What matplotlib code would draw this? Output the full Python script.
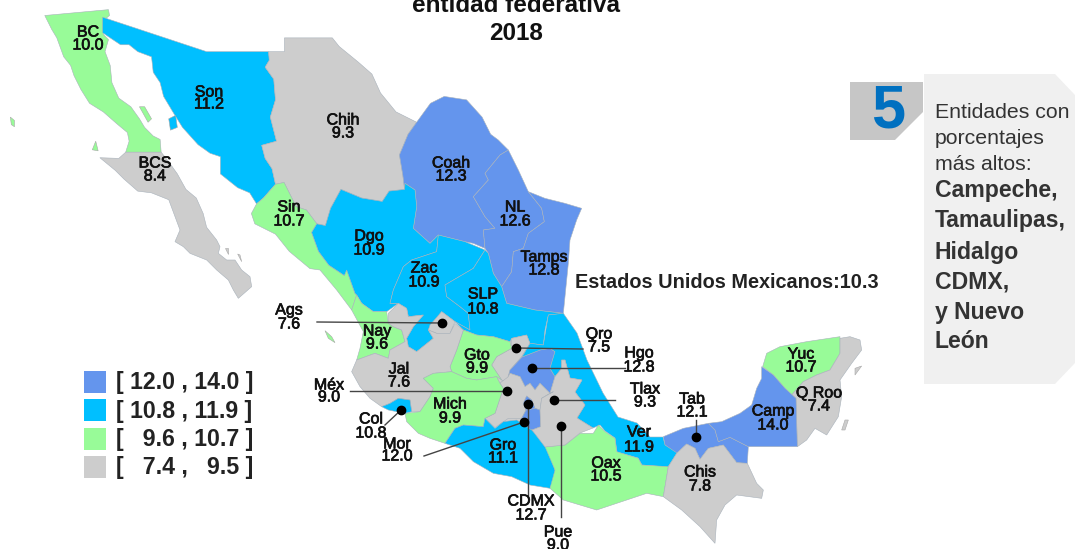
"""Entidades federativas de Mexico, mapa de porcentajes 2018."""

import numpy as np
import matplotlib
matplotlib.use("Agg")
import matplotlib.pyplot as plt
import matplotlib.patheffects as pe
from matplotlib.patches import Polygon, Rectangle

plt.rcParams["font.family"] = ["Liberation Sans", "DejaVu Sans"]

# Data
STATES = ["BC", "Son", "Chih", "Coah", "BCS", "Sin", "NL", "Dgo", "Tamps", "Zac", "SLP",
          "Ags", "Nay", "Qro", "Hgo", "Gto", "Jal", "Méx", "Yuc", "Tlax", "Q Roo", "Tab",
          "Camp", "Mich", "Col", "Mor", "Gro", "Ver", "Oax", "Chis", "CDMX", "Pue"]
VALUES = [10.0, 11.2, 9.3, 12.3, 8.4, 10.7, 12.6, 10.9, 12.8, 10.9, 10.8,
          7.6, 9.6, 7.5, 12.8, 9.9, 7.6, 9.0, 10.7, 9.3, 7.4, 12.1,
          14.0, 9.9, 10.8, 12.0, 11.1, 11.9, 10.5, 7.8, 12.7, 9.0]
BIN_EDGES = [9.6, 10.8, 12.0]
BIN_COLORS = ["#CDCDCD", "#98FB98", "#00BFFF", "#6495ED"]
LEGEND_LABELS = ["[ 12.0 , 14.0 ]", "[ 10.8 , 11.9 ]", "[   9.6 , 10.7 ]", "[   7.4 ,   9.5 ]"]
NATIONAL_LABEL = "Estados Unidos Mexicanos:10.3"
TITLE_LINES = ["entidad federativa", "2018"]
PANEL_NORMAL = ["Entidades con", "porcentajes", "más altos:"]
PANEL_BOLD = ["Campeche,", "Tamaulipas,", "Hidalgo", "CDMX,", "y Nuevo", "León"]


# Outlines were traced on enlarged crops, these map them back to image pixels
def z1(pts):
    return [(x / 2.904, y / 2.904) for x, y in pts]


def z2(pts):
    return [(260 + x / 3, 270 + y / 3) for x, y in pts]


def z3(pts):
    return [(540 + x / 3, 320 + y / 3) for x, y in pts]


def z4(pts):
    return [(385 + x / 3, 140 + y / 3) for x, y in pts]


def z5(pts):
    return [(490 + x / 3, 330 + y / 3) for x, y in pts]


def z6(pts):
    return [(170 + x / 3, 230 + y / 3) for x, y in pts]


SHAPES = {
    "BC": z1([(130, 45), (315, 28), (318, 45), (300, 60), (300, 100), (315, 115), (305, 150), (320, 190),
              (325, 240), (345, 285), (380, 310), (405, 345), (420, 370), (445, 395), (465, 405), (468, 442),
              (365, 442), (375, 410), (370, 385), (340, 360), (300, 325), (260, 300), (235, 260), (215, 220),
              (205, 190), (185, 165), (165, 110), (150, 85)]),
    "Son": z1([(298, 50), (600, 150), (780, 150), (782, 175), (770, 195), (795, 230), (800, 290), (785, 340),
               (803, 410), (760, 422), (770, 460), (790, 490), (800, 535), (765, 575), (745, 592), (725, 560),
               (690, 545), (640, 505), (640, 455), (610, 445), (575, 420), (530, 370), (505, 330), (475, 280),
               (465, 240), (445, 210), (440, 165), (400, 150), (375, 130), (350, 130), (320, 110), (298, 95)]),
    "Chih": z1([(780, 150), (826, 150), (826, 110), (965, 110), (985, 135), (1040, 180), (1080, 215),
                (1105, 270), (1150, 325), (1210, 355), (1185, 390), (1160, 450), (1170, 510), (1175, 550),
                (1130, 555), (1110, 585), (1050, 575), (990, 550), (960, 605), (945, 655), (920, 650),
                (890, 610), (860, 600), (840, 560), (825, 530), (800, 535), (790, 490), (770, 460), (760, 422),
                (803, 410), (785, 340), (800, 290), (795, 230), (770, 195), (782, 175)]),
    "Coah": z1([(1175, 550), (1170, 510), (1160, 450), (1185, 390), (1210, 355), (1250, 300), (1290, 280),
                (1355, 290), (1400, 340), (1425, 390)])
            + z4([(340, 0), (370, 30), (345, 45), (300, 100), (310, 120), (265, 170), (300, 230), (330, 265),
                  (295, 270), (300, 325), (265, 310), (240, 305), (160, 285), (135, 310), (85, 265), (95, 200),
                  (90, 150), (60, 130)]),
    "NL": z4([(345, 45), (370, 30), (400, 90), (430, 155), (470, 205), (478, 245), (430, 280), (415, 325),
              (385, 335), (380, 395), (350, 440), (325, 400), (310, 340), (300, 325), (295, 270), (330, 265),
              (300, 230), (265, 170), (310, 120), (300, 100)]),
    "Tamps": z4([(430, 155), (480, 175), (540, 190), (590, 205), (575, 240), (555, 300), (550, 370), (535, 520),
                 (450, 510), (365, 490), (350, 440), (380, 395), (385, 335), (415, 325), (430, 280), (478, 245),
                 (470, 205)]),
    "BCS": z1([(290, 458), (345, 460), (365, 442), (468, 442), (490, 470), (515, 505), (540, 550), (570, 575),
               (590, 620), (600, 660)])
           + z6([(140, 30), (150, 50), (145, 70), (170, 90), (195, 90), (215, 120), (240, 140), (245, 170),
                 (205, 205), (190, 180), (175, 150), (140, 120), (110, 90), (60, 70), (40, 50), (15, 35), (30, 0)])
           + z1([(490, 580), (440, 560), (400, 555), (360, 520), (335, 495)]),
    "Sin": z1([(800, 535), (825, 530), (840, 560), (860, 600), (890, 610), (920, 650), (905, 675), (925, 730),
                (955, 770), (1000, 800)])
           + z2([(260, 0), (285, 70), (290, 75), (275, 120), (230, 60), (180, 0)])
           + z1([(900, 780), (840, 730), (800, 680), (740, 650), (730, 620), (745, 592), (765, 575)]),
    "Dgo": z1([(990, 550), (1050, 575), (1110, 585), (1130, 555), (1175, 550)])
           + z4([(60, 130), (90, 150), (95, 200), (85, 265), (135, 310), (160, 285), (155, 335), (80, 360),
                 (55, 380), (25, 450), (15, 490)])
           + z2([(415, 100), (380, 125), (340, 125), (305, 100), (290, 75), (285, 70), (260, 0)])
           + z1([(1000, 800), (955, 770), (925, 730), (905, 675), (920, 650), (945, 655), (960, 605)]),
    "Zac": z4([(160, 285), (240, 305), (300, 330), (265, 385), (180, 435), (185, 470), (225, 500), (250, 520),
               (255, 570)])
           + z2([(585, 155), (545, 125), (505, 180), (520, 205), (470, 245), (445, 230), (440, 205), (460, 170),
                 (490, 135), (445, 140), (440, 115), (415, 100)])
           + z4([(15, 490), (25, 450), (55, 380), (80, 360), (155, 335)]),
    "SLP": z4([(300, 330), (310, 340), (325, 400), (350, 440), (365, 490), (450, 510), (535, 520), (490, 525),
               (480, 570)])
           + z2([(850, 225), (810, 220), (800, 195), (755, 205), (750, 215), (700, 200), (650, 195), (610, 180),
                 (585, 155)])
           + z4([(255, 570), (250, 520), (225, 500), (185, 470), (180, 435), (265, 385)]),
    "Ags": z2([(510, 165), (545, 125), (585, 155), (570, 190), (530, 190), (505, 180)]),
    "Nay": z2([(290, 75), (275, 120), (310, 185), (300, 235), (290, 270), (345, 250), (385, 265), (390, 240),
               (435, 215), (425, 180), (400, 170), (385, 160), (380, 125), (340, 125), (305, 100)]),
    "Jal": z2([(385, 130), (415, 100), (440, 115), (445, 140), (490, 135), (460, 170), (440, 205), (445, 230),
               (470, 245), (520, 205), (505, 180), (530, 190), (570, 190), (585, 160), (610, 180), (590, 240),
               (570, 290), (575, 305), (520, 310), (490, 325), (520, 355), (510, 380), (480, 425), (455, 425),
               (450, 390), (415, 385), (390, 400), (365, 410), (330, 385), (300, 350), (275, 305), (290, 270),
               (345, 250), (385, 265), (390, 240), (435, 215), (425, 180), (400, 170), (385, 160)]),
    "Mich": z2([(490, 325), (520, 310), (575, 305), (620, 325), (650, 330), (710, 320), (720, 340), (730, 355),
                (725, 370), (705, 430), (675, 445), (670, 470), (610, 465), (585, 475), (555, 520), (510, 505),
                (475, 490), (440, 455), (435, 430), (480, 425), (510, 380), (520, 355)]),
    "Col": z2([(365, 410), (390, 400), (415, 385), (450, 390), (455, 425), (435, 430), (410, 425), (385, 420)]),
    "Gto": z2([(610, 180), (650, 195), (700, 200), (750, 215), (755, 235), (710, 260), (695, 285), (725, 330),
               (710, 320), (650, 330), (620, 325), (575, 305), (570, 290), (590, 240)]),
    "Qro": z2([(755, 205), (800, 195), (810, 220), (785, 260), (750, 300), (745, 325), (735, 335), (725, 330),
               (695, 285), (710, 260), (755, 235)]),
    "Hgo": z5([(60, 120), (96, 81), (150, 60), (180, 55), (195, 65), (180, 115), (195, 140), (180, 190), (150, 160),
               (135, 180), (120, 160), (105, 170), (90, 140), (60, 130), (54, 141)]),
    "Méx": z5([(54, 141), (60, 130), (90, 140), (105, 170), (120, 160), (135, 180), (150, 160), (180, 190), (155, 205),
               (150, 240), (135, 235), (125, 210), (110, 198), (100, 220), (108, 240), (95, 265), (55, 265),
               (15, 293), (-15, 265), (15, 250), (35, 190), (40, 175), (30, 159)]),
    "CDMX": z5([(110, 198), (125, 210), (135, 235), (108, 240), (100, 220)]),
    "Mor": z5([(108, 240), (135, 235), (150, 240), (152, 290), (126, 300), (90, 285), (95, 265)]),
    "Tlax": z5([(155, 205), (190, 185), (225, 205), (210, 220), (180, 235), (165, 225)]),
    "Pue": z5([(180, 190), (195, 140), (215, 115), (215, 90), (225, 90), (240, 144), (276, 150), (255, 186),
               (285, 225), (261, 264), (309, 294), (270, 309), (225, 345), (165, 351), (126, 300), (152, 290),
               (150, 240), (155, 205), (190, 185)]),
    "Gro": z2([(555, 520), (585, 475), (610, 465), (670, 470), (675, 445), (705, 475), (730, 455), (770, 450),
               (815, 480), (860, 520), (885, 600), (890, 610), (870, 655), (810, 645), (755, 620), (700, 610),
               (640, 575), (600, 535)]),
    "Oax": z3([(15, 380), (75, 375), (120, 340), (160, 340), (175, 315), (195, 335), (225, 355), (230, 395),
               (295, 415), (305, 435), (385, 440), (370, 530), (320, 520), (245, 545), (170, 570), (70, 540),
               (30, 505), (45, 450)]),
    "Ver": z4([(490, 525), (535, 520)])
           + [(577, 333), (587, 360), (603, 393), (618, 417), (637, 423), (650, 437), (663, 437), (665, 445),
              (677, 453), (668, 467), (642, 465), (638, 458), (617, 452), (615, 438), (605, 431), (600, 425),
              (593, 428)]
           + z5([(261, 264), (285, 225), (255, 186), (276, 150), (240, 144), (225, 90), (215, 90), (215, 115),
                 (195, 140), (180, 115), (195, 65), (180, 55), (150, 60), (96, 81)])
           + z2([(810, 220), (850, 225)]),
    "Tab": z3([(370, 350), (430, 325), (505, 310), (525, 330), (535, 365), (570, 352), (625, 380), (622, 430),
               (590, 428), (550, 375), (505, 385), (480, 418), (465, 385), (440, 372), (410, 400), (375, 375)]),
    "Camp": z3([(665, 140), (700, 165), (735, 205), (768, 235), (772, 380), (625, 380), (570, 352), (535, 365),
                (525, 330), (505, 310), (545, 305), (600, 280), (635, 255), (650, 205), (665, 175)]),
    "Chis": z3([(385, 440), (410, 400), (440, 372), (465, 385), (480, 418), (505, 385), (550, 375), (590, 428),
                (622, 430), (650, 490), (670, 510), (665, 535), (590, 525), (555, 555), (530, 600), (525, 670),
                (480, 620), (425, 570), (370, 530)]),
    "Yuc": z3([(668, 140), (680, 100), (720, 80), (800, 65), (900, 50), (900, 100), (870, 150), (830, 165),
               (790, 185), (755, 225), (735, 205), (700, 165)]),
    "Q Roo": z3([(900, 55), (930, 50), (960, 60), (965, 90), (935, 130), (900, 180), (905, 230), (895, 290),
                 (860, 345), (825, 325), (800, 360), (775, 378), (772, 380), (768, 235), (755, 225), (790, 185),
                 (830, 165), (870, 150), (900, 100)]),
}

ISLANDS = {
    "BC": [z1([(30, 340), (42, 350), (42, 368), (33, 362)]),
           z1([(405, 310), (420, 310), (440, 345), (430, 355)]),
           z1([(268, 435), (278, 410), (285, 438)])],
    "Son": [z1([(490, 345), (510, 335), (515, 370), (495, 378)])],
    "Q Roo": [z3([(945, 145), (965, 138), (945, 165)]), z3([(905, 330), (915, 300), (925, 300), (915, 330)])],
    "Nay": [z2([(195, 182), (215, 200), (225, 218), (205, 205)])],
    "BCS": [z6([(165, 55), (175, 55), (175, 72)]), z6([(203, 72), (210, 75), (215, 95)])],
}

# Land under the traced states, so small tracing gaps do not show white
BACKDROP = [(392, 312), (470, 330), (512, 340), (530, 345), (555, 352), (575, 395), (590, 425), (540, 440),
            (500, 425), (480, 415), (470, 385), (410, 345)]

# Label centres: name y, value y
LABEL_POS = {
    "BC": (88, 32, 45), "Son": (209, 92, 104), "Chih": (343, 120, 133), "Coah": (451, 163, 176),
    "BCS": (155, 163, 176), "Sin": (289, 207, 221), "NL": (515, 207, 221), "Dgo": (369, 236, 250),
    "Tamps": (544, 257, 270), "Zac": (424, 268, 282), "SLP": (483, 294, 309), "Ags": (289, 310, 324),
    "Nay": (377, 331, 344), "Qro": (599, 334, 347), "Hgo": (639, 353, 367), "Gto": (477, 355, 368),
    "Jal": (399, 369, 382), "Méx": (329, 385, 397), "Yuc": (801, 354, 367), "Tlax": (645, 389, 402),
    "Q Roo": (819, 393, 406), "Tab": (692, 399, 412), "Camp": (773, 411, 425), "Mich": (450, 404, 418),
    "Col": (371, 419, 433), "Mor": (397, 444, 456), "Gro": (503, 445, 458), "Ver": (639, 432, 447),
    "Oax": (606, 463, 476), "Chis": (700, 472, 486), "CDMX": (531, 501, 515), "Pue": (558, 532, 545),
}

# Marker dot and far end of its leader line
LEADERS = {
    "Ags": ((442, 323), (317, 322)), "Qro": ((516, 348), (583, 349)), "Hgo": ((532, 368), (625, 368)),
    "Méx": ((507, 391), (350, 391)), "Col": ((401, 410), (385, 425)), "Mor": ((524, 422), (424, 456)),
    "CDMX": ((528, 404), (528, 495)), "Pue": ((561, 426), (561, 517)), "Tlax": ((554, 400), (615, 400)),
    "Tab": ((696, 437), (696, 420)),
}

fig = plt.figure(figsize=(10.75, 5.49), dpi=100)
ax = fig.add_axes([0, 0, 1, 1])
ax.set_xlim(0, 1075)
ax.set_ylim(549, 0)
ax.axis("off")

soft = [pe.withStroke(linewidth=0.5, foreground="#111111")]

ax.add_patch(Polygon(BACKDROP, closed=True, facecolor=BIN_COLORS[0], edgecolor="none", zorder=1))

for state, value in zip(STATES, VALUES):
    color = BIN_COLORS[np.digitize(value, BIN_EDGES)]
    ax.add_patch(Polygon(SHAPES[state], closed=True, facecolor=color, edgecolor="#a9b2bb", linewidth=0.4, zorder=2))
    for island in ISLANDS.get(state, []):
        ax.add_patch(Polygon(island, closed=True, facecolor=color, edgecolor="#a8a8a8", linewidth=0.4, zorder=2))

for dot, end in LEADERS.values():
    ax.plot([dot[0], end[0]], [dot[1], end[1]], color="#444444", lw=1.0, zorder=3)
    ax.plot(dot[0], dot[1], "o", color="black", ms=6, zorder=4)

for state, value in zip(STATES, VALUES):
    x, y_name, y_val = LABEL_POS[state]
    ax.text(x, y_name, state, ha="center", va="center", fontsize=11.5, color="#111111", path_effects=soft, zorder=5)
    ax.text(x, y_val, f"{value:.1f}", ha="center", va="center", fontsize=11.5, color="#111111", path_effects=soft, zorder=5)

# Title, clipped by the top edge as in the source
ax.text(516, 6, TITLE_LINES[0], ha="center", va="center", fontsize=17.5, fontweight="bold", color="#111111")
ax.text(516, 33, TITLE_LINES[1], ha="center", va="center", fontsize=17.5, fontweight="bold", color="#111111")

ax.text(575, 282, NATIONAL_LABEL, ha="left", va="center", fontsize=14.3, fontweight="bold", color="#222222")

# Legend
for i, label in enumerate(LEGEND_LABELS):
    top = 371 + i * 28.3
    ax.add_patch(Rectangle((84, top), 22, 22, facecolor=BIN_COLORS[3 - i], edgecolor="none", zorder=2))
    ax.text(116, top + 12, label, ha="left", va="center", fontsize=16.7, fontweight="bold", color="#222222")

# Side panel
ax.add_patch(Polygon([(924, 74), (1055, 74), (1075, 95), (1075, 363), (1055, 384), (924, 384)],
                     closed=True, facecolor="#F0F0F0", edgecolor="none", zorder=1))
ax.add_patch(Polygon([(850, 82), (923, 82), (923, 112), (895, 140), (850, 140)],
                     closed=True, facecolor="#C6C6C6", edgecolor="none", zorder=1))
ax.text(888, 112, "5", ha="center", va="center", fontsize=44, fontweight="bold", color="#0070C0", zorder=2)

for text, y in zip(PANEL_NORMAL, [113, 139, 165]):
    ax.text(935, y, text, ha="left", va="center", fontsize=15.3, color="#333333", zorder=2)
for text, y in zip(PANEL_BOLD, [191, 221, 252, 282, 312, 342]):
    ax.text(935, y, text, ha="left", va="center", fontsize=16.6, fontweight="bold", color="#333333", zorder=2)

fig.savefig("out.png", dpi=100)
